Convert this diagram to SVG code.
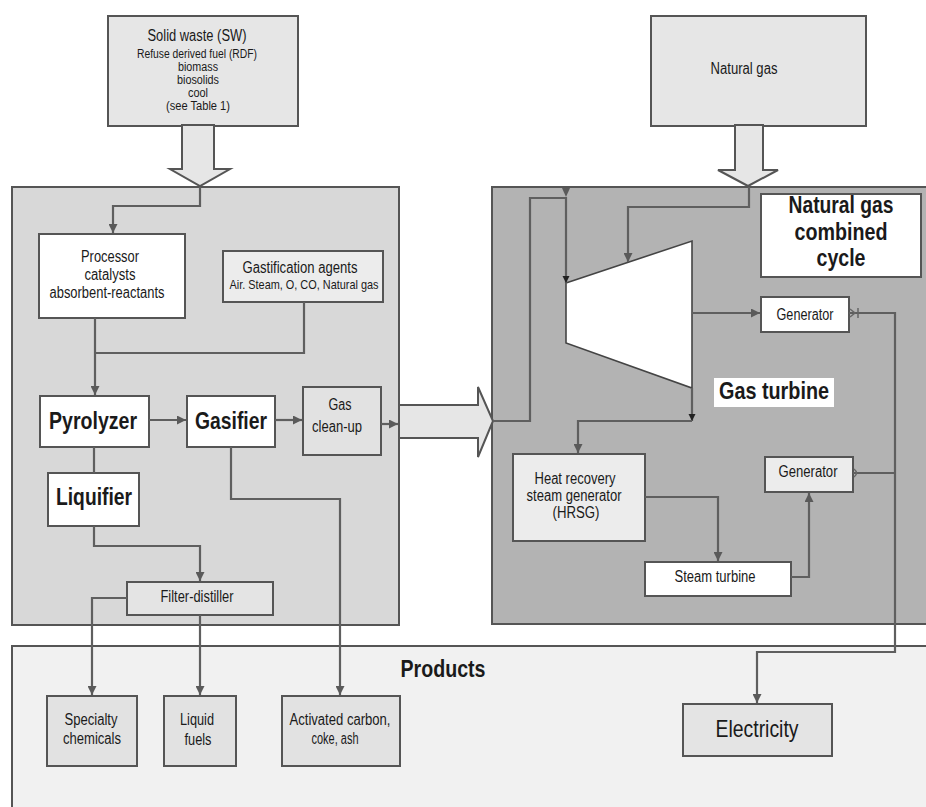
<svg xmlns="http://www.w3.org/2000/svg" width="926" height="807" viewBox="0 0 926 807">
<defs>
<marker id="ah" viewBox="0 0 10 10" refX="10" refY="5" markerWidth="11" markerHeight="9" markerUnits="userSpaceOnUse" orient="auto"><path d="M0,0 L10,5 L0,10 z" fill="#5a5a5a"/></marker>
<marker id="ahs" viewBox="0 0 10 10" refX="10" refY="5" markerWidth="7" markerHeight="8" markerUnits="userSpaceOnUse" orient="auto"><path d="M0,0 L10,5 L0,10 z" fill="#222"/></marker>
</defs>
<style>
text{font-family:"Liberation Sans",Arial,sans-serif;fill:#1a1a1a;text-anchor:middle}
.t16{font-size:16px}
.t13{font-size:13px}
.t12{font-size:12px}
.b24{font-size:24px;font-weight:bold}
.box{stroke:#555;stroke-width:2}
.panel{stroke:#555;stroke-width:2}
.ln{fill:none;stroke:#5f5f5f;stroke-width:2.2}
.big{fill:#e6e6e6;stroke:#555;stroke-width:2}
</style>
<rect width="926" height="807" fill="#ffffff"/>

<g id="panel-products"><rect class="panel" x="12" y="646" width="920" height="170" fill="#f1f1f1"/><text class="b24" x="443" y="677" textLength="85" lengthAdjust="spacingAndGlyphs">Products</text></g>
<g id="panel-left"><rect class="panel" x="12" y="187" width="387" height="438" fill="#d8d8d8"/></g>
<g id="panel-right"><rect class="panel" x="492" y="187" width="440" height="437" fill="#b3b3b3"/></g>

<g id="solid-waste">
<rect class="box" x="108" y="16" width="190" height="110" fill="#e6e6e6"/>
<text class="t16" x="197" y="41" textLength="99" lengthAdjust="spacingAndGlyphs">Solid waste (SW)</text>
<text class="t12" x="197" y="58" textLength="120" lengthAdjust="spacingAndGlyphs">Refuse derived fuel (RDF)</text>
<text class="t12" x="198" y="71" textLength="40" lengthAdjust="spacingAndGlyphs">biomass</text>
<text class="t12" x="198" y="84" textLength="42" lengthAdjust="spacingAndGlyphs">biosolids</text>
<text class="t12" x="198" y="97" textLength="20" lengthAdjust="spacingAndGlyphs">cool</text>
<text class="t12" x="198" y="110" textLength="64" lengthAdjust="spacingAndGlyphs">(see Table 1)</text>
</g>
<g id="sw-arrow"><polygon class="big" points="182,125 214,125 214,169 230,169 200,186 170,169 182,169"/></g>

<g id="natural-gas">
<rect class="box" x="651" y="16" width="215" height="110" fill="#e6e6e6"/>
<text class="t16" x="744" y="74" textLength="67" lengthAdjust="spacingAndGlyphs">Natural gas</text>
</g>
<g id="ng-arrow"><polygon class="big" points="735,125 763,125 763,170 778,170 748,186 718,170 735,170"/></g>

<g id="big-arrow"><polygon class="big" points="399,405 478,405 478,387 493,421 478,457 478,438 399,438"/></g>

<g id="processor">
<rect class="box" x="39" y="234" width="146" height="84" fill="#ffffff"/>
<text class="t16" x="110" y="262" textLength="58" lengthAdjust="spacingAndGlyphs">Processor</text>
<text class="t16" x="110" y="280" textLength="51" lengthAdjust="spacingAndGlyphs">catalysts</text>
<text class="t16" x="107" y="298" textLength="115" lengthAdjust="spacingAndGlyphs">absorbent-reactants</text>
</g>
<g id="gastification">
<rect class="box" x="223" y="251" width="160" height="51" fill="#ececec"/>
<text class="t16" x="300" y="273" textLength="115" lengthAdjust="spacingAndGlyphs">Gastification agents</text>
<text class="t13" x="304" y="289" textLength="149" lengthAdjust="spacingAndGlyphs">Air. Steam, O, CO, Natural gas</text>
</g>
<g id="pyrolyzer"><rect class="box" x="40" y="396" width="109" height="51" fill="#ffffff"/><text class="b24" x="93" y="429" textLength="88" lengthAdjust="spacingAndGlyphs">Pyrolyzer</text></g>
<g id="gasifier"><rect class="box" x="187" y="396" width="88" height="51" fill="#ffffff"/><text class="b24" x="231" y="429" textLength="72" lengthAdjust="spacingAndGlyphs">Gasifier</text></g>
<g id="gas-cleanup"><rect class="box" x="303" y="387" width="78" height="68" fill="#e2e2e2"/><text class="t16" x="340" y="410" textLength="23" lengthAdjust="spacingAndGlyphs">Gas</text><text class="t16" x="337" y="432" textLength="50" lengthAdjust="spacingAndGlyphs">clean-up</text></g>
<g id="liquifier"><rect class="box" x="48" y="473" width="91" height="53" fill="#ffffff"/><text class="b24" x="94" y="505" textLength="76" lengthAdjust="spacingAndGlyphs">Liquifier</text></g>
<g id="filter-distiller"><rect class="box" x="127" y="582" width="146" height="33" fill="#e4e4e4"/><text class="t16" x="197" y="602" textLength="73" lengthAdjust="spacingAndGlyphs">Filter-distiller</text></g>

<g id="specialty"><rect class="box" x="47" y="696" width="90" height="70" fill="#e2e2e2"/><text class="t16" x="91" y="725" textLength="53" lengthAdjust="spacingAndGlyphs">Specialty</text><text class="t16" x="92" y="744" textLength="58" lengthAdjust="spacingAndGlyphs">chemicals</text></g>
<g id="liquid-fuels"><rect class="box" x="164" y="696" width="72" height="70" fill="#e2e2e2"/><text class="t16" x="197" y="725" textLength="34" lengthAdjust="spacingAndGlyphs">Liquid</text><text class="t16" x="198" y="745" textLength="27" lengthAdjust="spacingAndGlyphs">fuels</text></g>
<g id="activated-carbon"><rect class="box" x="282" y="696" width="118" height="70" fill="#e2e2e2"/><text class="t16" x="340" y="725" textLength="101" lengthAdjust="spacingAndGlyphs">Activated carbon,</text><text class="t16" x="335" y="744" textLength="47" lengthAdjust="spacingAndGlyphs">coke, ash</text></g>
<g id="electricity"><rect class="box" x="683" y="704" width="149" height="52" fill="#e4e4e4"/><text x="757" y="737" style="font-size:24px" textLength="83" lengthAdjust="spacingAndGlyphs">Electricity</text></g>

<g id="ngcc-label"><rect class="box" x="761" y="194" width="160" height="83" fill="#ffffff"/>
<text class="b24" x="841" y="213" textLength="105" lengthAdjust="spacingAndGlyphs">Natural gas</text><text class="b24" x="841" y="240" textLength="93" lengthAdjust="spacingAndGlyphs">combined</text><text class="b24" x="841" y="266" textLength="49" lengthAdjust="spacingAndGlyphs">cycle</text></g>
<g id="gas-turbine"><polygon points="566,283 692,241 692,388 566,343" fill="#ffffff" stroke="#444" stroke-width="1.6"/></g>
<g id="gas-turbine-label"><rect x="714" y="378" width="120" height="29" fill="#ffffff"/><text class="b24" x="774" y="399" textLength="110" lengthAdjust="spacingAndGlyphs">Gas turbine</text></g>
<g id="generator1"><rect class="box" x="761" y="297" width="88" height="35" fill="#ffffff"/><text class="t16" x="805" y="320" textLength="57" lengthAdjust="spacingAndGlyphs">Generator</text></g>
<g id="generator2"><rect class="box" x="765" y="457" width="88" height="35" fill="#ececec"/><text class="t16" x="808" y="477" textLength="59" lengthAdjust="spacingAndGlyphs">Generator</text></g>
<g id="hrsg"><rect class="box" x="513" y="454" width="132" height="87" fill="#ececec"/>
<text class="t16" x="575" y="484" textLength="81" lengthAdjust="spacingAndGlyphs">Heat recovery</text><text class="t16" x="574" y="501" textLength="95" lengthAdjust="spacingAndGlyphs">steam generator</text><text class="t16" x="576" y="518" textLength="47" lengthAdjust="spacingAndGlyphs">(HRSG)</text></g>
<g id="steam-turbine"><rect class="box" x="645" y="562" width="146" height="34" fill="#ffffff"/><text class="t16" x="715" y="582" textLength="81" lengthAdjust="spacingAndGlyphs">Steam turbine</text></g>

<g id="connectors">
<path class="ln" d="M200,187 V206 H113 V233" marker-end="url(#ah)"/>
<path class="ln" d="M95,318 V395" marker-end="url(#ah)"/>
<path class="ln" d="M304,302 V353 H95"/>
<path class="ln" d="M149,420 H186" marker-end="url(#ah)"/>
<path class="ln" d="M275,420 H302" marker-end="url(#ah)"/>
<path class="ln" d="M381,424 H398" marker-end="url(#ah)"/>
<path class="ln" d="M94,447 V473"/>
<path class="ln" d="M94,526 V546 H200 V581" marker-end="url(#ah)"/>
<path class="ln" d="M231,447 V499 H340 V695" marker-end="url(#ah)"/>
<path class="ln" d="M127,598 H92 V695" marker-end="url(#ah)"/>
<path class="ln" d="M200,615 V695" marker-end="url(#ah)"/>
<path class="ln" d="M493,421 H530 V198 H566 V283" marker-end="url(#ahs)"/>
<polygon points="562,188 570,188 566,197" fill="#5a5a5a"/>
<path class="ln" d="M749,187 V207 H628 V262" marker-end="url(#ah)"/>
<path class="ln" d="M692,313 H760" marker-end="url(#ah)"/>
<path class="ln" d="M692,388 V421" marker-end="url(#ahs)"/>
<path class="ln" d="M692,421 H578 V453" marker-end="url(#ah)"/>
<path class="ln" d="M645,497 H718 V561" marker-end="url(#ah)"/>
<path class="ln" d="M791,577 H809 V493" marker-end="url(#ah)"/>
<path class="ln" d="M849,313 H895 V652 H757 V703" marker-end="url(#ah)"/>
<path class="ln" d="M853,473 H895"/>
<path d="M850,309 L855,313 L850,317 M858,308 V318" fill="none" stroke="#666" stroke-width="1.5"/>
<path d="M854,469 Q859,473 854,477" fill="none" stroke="#666" stroke-width="1.5"/>
</g>
</svg>
